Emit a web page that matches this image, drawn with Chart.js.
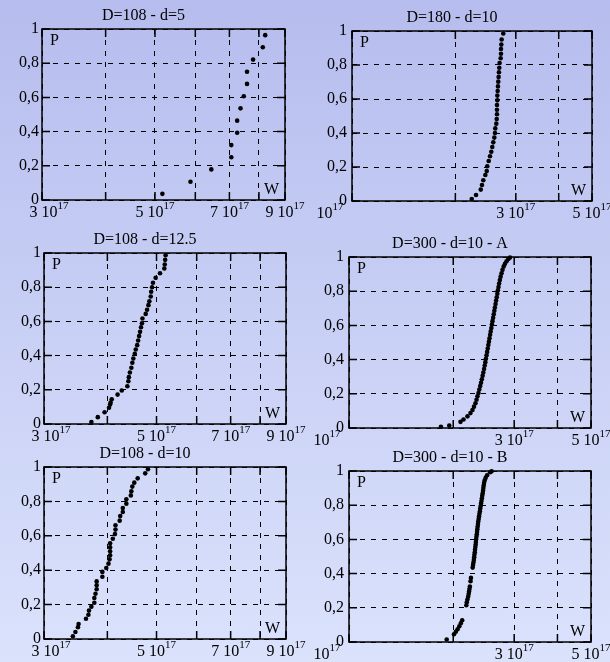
<!DOCTYPE html>
<html><head><meta charset="utf-8">
<script src="https://cdn.jsdelivr.net/npm/chart.js@4/dist/chart.umd.min.js"></script>
<style>
html,body{margin:0;padding:0;width:610px;height:662px;overflow:hidden;}
body{background:linear-gradient(to bottom,#b6bdee 0%,#c9d0f5 50%,#dae2fc 100%);position:relative;}
.pn{position:absolute;}
canvas{display:block;}
</style></head><body>
<div class="pn"><canvas id="c1"></canvas></div>
<div class="pn"><canvas id="c2"></canvas></div>
<div class="pn"><canvas id="c3"></canvas></div>
<div class="pn"><canvas id="c4"></canvas></div>
<div class="pn"><canvas id="c5"></canvas></div>
<div class="pn"><canvas id="c6"></canvas></div>
<script>
// ---------- DATA (W in units of 10^17, P = cumulative probability) ----------
const TITLES = ['D=108 - d=5', 'D=180 - d=10', 'D=108 - d=12.5', 'D=300 - d=10 - A', 'D=108 - d=10', 'D=300 - d=10 - B'];
const X_TITLE = 'W';
const Y_TITLE = 'P';

const X_EXPONENT = '17';
const LEFT_X_GRID = [3, 4, 5, 6, 7, 8, 9];
const LEFT_X_TICKS = [3, 5, 7, 9];
const LEFT_X_LABELS = ['3 10', '5 10', '7 10', '9 10'];
const RIGHT_X_GRID = [1, 2, 3, 4, 5];
const RIGHT_X_TICKS = [1, 3, 5];
const RIGHT_X_LABELS = ['10', '3 10', '5 10'];
const Y_TICKS = [0, 0.2, 0.4, 0.6, 0.8, 1];
const Y_LABELS = ['0', '0,2', '0,4', '0,6', '0,8', '1'];

// D=108 - d=5
const p1W = [5.17, 5.87, 6.45, 7.06, 7.06, 7.25, 7.25, 7.36, 7.47, 7.58, 7.58, 7.79, 8.14, 8.23];
const p1P = [0.036, 0.107, 0.179, 0.25, 0.321, 0.393, 0.464, 0.536, 0.607, 0.679, 0.75, 0.821, 0.893, 0.964];

// D=180 - d=10
const p2W = [2.232, 2.297, 2.371, 2.391, 2.412, 2.445, 2.468, 2.477, 2.501, 2.523, 2.545, 2.562, 2.579, 2.597, 2.609, 2.614, 2.632, 2.639, 2.644, 2.644, 2.644, 2.650, 2.650, 2.656, 2.661, 2.667, 2.673, 2.679, 2.685, 2.691, 2.710, 2.716, 2.716, 2.722, 2.728, 2.758];
const p2P = [0.012, 0.035, 0.067, 0.094, 0.122, 0.153, 0.176, 0.204, 0.235, 0.263, 0.29, 0.318, 0.345, 0.373, 0.4, 0.427, 0.455, 0.482, 0.51, 0.537, 0.565, 0.592, 0.62, 0.647, 0.674, 0.702, 0.73, 0.757, 0.784, 0.812, 0.84, 0.866, 0.894, 0.92, 0.95, 0.985];

// D=108 - d=12.5
const p3W = [3.72, 3.83, 3.95, 4.03, 4.05, 4.06, 4.08, 4.19, 4.27, 4.38, 4.40, 4.41, 4.43, 4.46, 4.48, 4.50, 4.53, 4.55, 4.58, 4.60, 4.62, 4.64, 4.66, 4.68, 4.69, 4.76, 4.79, 4.82, 4.84, 4.87, 4.88, 4.90, 4.92, 4.98, 5.08, 5.18, 5.19, 5.20, 5.21];
const p3P = [0.011, 0.04, 0.069, 0.095, 0.114, 0.126, 0.145, 0.172, 0.196, 0.221, 0.25, 0.274, 0.301, 0.329, 0.358, 0.383, 0.41, 0.436, 0.461, 0.488, 0.514, 0.539, 0.566, 0.589, 0.617, 0.644, 0.668, 0.695, 0.718, 0.746, 0.773, 0.8, 0.826, 0.855, 0.882, 0.909, 0.933, 0.96, 0.987];

// D=300 - d=10 - A
const p4W = [1.843, 1.948, 2.099, 2.142, 2.199, 2.243, 2.273, 2.296, 2.319, 2.335, 2.350, 2.366, 2.379, 2.393, 2.406, 2.419, 2.432, 2.443, 2.455, 2.466, 2.476, 2.486, 2.496, 2.506, 2.516, 2.526, 2.536, 2.546, 2.556, 2.566, 2.577, 2.587, 2.597, 2.608, 2.618, 2.629, 2.639, 2.650, 2.660, 2.671, 2.682, 2.692, 2.703, 2.714, 2.727, 2.741, 2.758, 2.776, 2.798, 2.822, 2.851, 2.885, 2.918];
const p4P = [0.007, 0.014, 0.036, 0.05, 0.068, 0.087, 0.105, 0.125, 0.145, 0.165, 0.185, 0.205, 0.225, 0.245, 0.265, 0.285, 0.305, 0.325, 0.345, 0.365, 0.385, 0.405, 0.425, 0.445, 0.465, 0.485, 0.505, 0.525, 0.545, 0.565, 0.585, 0.605, 0.625, 0.645, 0.665, 0.685, 0.705, 0.725, 0.745, 0.765, 0.785, 0.805, 0.825, 0.845, 0.865, 0.885, 0.905, 0.925, 0.945, 0.96, 0.975, 0.988, 0.997];

// D=108 - d=10
const p5W = [3.42, 3.46, 3.50, 3.51, 3.63, 3.67, 3.68, 3.72, 3.77, 3.77, 3.79, 3.81, 3.81, 3.81, 3.91, 3.91, 3.98, 4.02, 4.04, 4.05, 4.05, 4.05, 4.05, 4.10, 4.14, 4.15, 4.15, 4.23, 4.24, 4.29, 4.29, 4.36, 4.36, 4.45, 4.46, 4.48, 4.52, 4.59, 4.75, 4.81];
const p5P = [0.016, 0.041, 0.068, 0.087, 0.118, 0.141, 0.165, 0.188, 0.211, 0.238, 0.263, 0.289, 0.312, 0.335, 0.362, 0.39, 0.413, 0.438, 0.463, 0.487, 0.51, 0.533, 0.556, 0.583, 0.61, 0.636, 0.661, 0.688, 0.715, 0.738, 0.762, 0.787, 0.812, 0.835, 0.859, 0.886, 0.909, 0.934, 0.963, 0.987];

// D=300 - d=10 - B
const p6W = [1.915, 2.010, 2.035, 2.059, 2.083, 2.104, 2.123, 2.182, 2.189, 2.198, 2.209, 2.216, 2.222, 2.228, 2.234, 2.244, 2.250, 2.276, 2.282, 2.288, 2.294, 2.299, 2.303, 2.308, 2.312, 2.317, 2.322, 2.325, 2.329, 2.334, 2.339, 2.344, 2.348, 2.353, 2.358, 2.362, 2.369, 2.375, 2.381, 2.388, 2.394, 2.400, 2.407, 2.413, 2.420, 2.426, 2.433, 2.439, 2.444, 2.449, 2.455, 2.465, 2.482, 2.505, 2.556, 2.581];
const p6P = [0.015, 0.045, 0.06, 0.075, 0.092, 0.11, 0.127, 0.215, 0.232, 0.248, 0.265, 0.28, 0.295, 0.31, 0.325, 0.355, 0.375, 0.435, 0.45, 0.465, 0.48, 0.495, 0.51, 0.525, 0.54, 0.555, 0.57, 0.585, 0.6, 0.615, 0.63, 0.645, 0.66, 0.675, 0.69, 0.705, 0.72, 0.735, 0.75, 0.765, 0.78, 0.795, 0.81, 0.825, 0.84, 0.855, 0.87, 0.885, 0.9, 0.915, 0.93, 0.945, 0.96, 0.975, 0.993, 0.998];

// ---------- LAYOUT / STYLE ----------
const FONT = "'Liberation Serif','Times New Roman',serif";
const FS = 16, SUPFS = 11;
const YW = 40, XH = 24, TH = 22, PADR = 20, TK = 8;

const LEFT_AXIS = {min: 3, max: 9, grid: LEFT_X_GRID, ticks: LEFT_X_TICKS, labels: LEFT_X_LABELS, firstShift: 7};
const RIGHT_AXIS = {min: 1, max: 5, grid: RIGHT_X_GRID, ticks: RIGHT_X_TICKS, labels: RIGHT_X_LABELS, firstShift: -22};

const PANELS = [
  {id: 'c1', title: TITLES[0], w: p1W, p: p1P, ax: LEFT_AXIS, area: {l: 42, r: 285, t: 29, b: 200}, ypad: 3},
  {id: 'c2', title: TITLES[1], w: p2W, p: p2P, ax: RIGHT_AXIS, area: {l: 352, r: 592, t: 31, b: 201}, ypad: 5},
  {id: 'c3', title: TITLES[2], w: p3W, p: p3P, ax: LEFT_AXIS, area: {l: 44, r: 286, t: 253, b: 424}, ypad: 3},
  {id: 'c4', title: TITLES[3], w: p4W, p: p4P, ax: RIGHT_AXIS, area: {l: 349, r: 591, t: 257, b: 428}, ypad: 5},
  {id: 'c5', title: TITLES[4], w: p5W, p: p5P, ax: LEFT_AXIS, area: {l: 44, r: 286, t: 467, b: 639}, ypad: 3},
  {id: 'c6', title: TITLES[5], w: p6W, p: p6P, ax: RIGHT_AXIS, area: {l: 349, r: 591, t: 471, b: 642}, ypad: 5}
];

const framePlugin = {
  id: 'frame',
  beforeDatasetsDraw(chart) {
    const {ctx, chartArea: a, scales: {x, y}} = chart;
    ctx.save();
    ctx.strokeStyle = '#000';
    ctx.lineWidth = 1.5;
    ctx.setLineDash([]);
    ctx.strokeRect(a.left, a.top, a.right - a.left, a.bottom - a.top);
    ctx.beginPath();
    x.ticks.forEach(t => {
      const px = x.getPixelForValue(t.value);
      ctx.moveTo(px, a.bottom); ctx.lineTo(px, a.bottom - TK);
      ctx.moveTo(px, a.top); ctx.lineTo(px, a.top + TK);
    });
    y.ticks.forEach(t => {
      const py = y.getPixelForValue(t.value);
      ctx.moveTo(a.left, py); ctx.lineTo(a.left + TK, py);
      ctx.moveTo(a.right, py); ctx.lineTo(a.right - TK, py);
    });
    ctx.stroke();
    ctx.fillStyle = '#000';
    ctx.font = FS + 'px ' + FONT;
    ctx.textAlign = 'left'; ctx.textBaseline = 'top';
    ctx.fillText(Y_TITLE, a.left + 8, a.top + 4);
    ctx.textAlign = 'right'; ctx.textBaseline = 'bottom';
    ctx.fillText(X_TITLE, a.right - 6, a.bottom - 2);
    ctx.restore();
  },
  afterDraw(chart) {
    // x tick labels "m 10^17" with a raised exponent, placed through the x scale
    const {ctx, chartArea: a, scales: {x}} = chart;
    const ax = chart.config.options.plugins.frame.ax;
    ctx.save();
    ctx.fillStyle = '#000';
    ctx.textBaseline = 'alphabetic';
    ctx.textAlign = 'left';
    ax.ticks.forEach((v, i) => {
      const base = ax.labels[i];
      ctx.font = FS + 'px ' + FONT;
      const wb = ctx.measureText(base).width;
      ctx.font = SUPFS + 'px ' + FONT;
      const we = ctx.measureText(X_EXPONENT).width;
      let cx = x.getPixelForValue(v) + (i === 0 ? ax.firstShift : 0);
      const x0 = cx - (wb + we) / 2;
      const by = a.bottom + 17;
      ctx.font = FS + 'px ' + FONT;
      ctx.fillText(base, x0, by);
      ctx.font = SUPFS + 'px ' + FONT;
      ctx.fillText(X_EXPONENT, x0 + wb, by - 8);
    });
    ctx.restore();
  }
};

function make(cfg) {
  const cv = document.getElementById(cfg.id);
  const wrap = cv.parentNode;
  const a = cfg.area;
  const cw = YW + (a.r - a.l) + PADR;
  const ch = TH + (a.b - a.t) + XH;
  wrap.style.left = (a.l - YW) + 'px';
  wrap.style.top = (a.t - TH) + 'px';
  cv.width = cw; cv.height = ch;
  cv.style.width = cw + 'px'; cv.style.height = ch + 'px';
  const ax = cfg.ax;
  new Chart(cv, {
    type: 'scatter',
    data: {datasets: [{
      data: cfg.w.map((v, i) => ({x: v, y: cfg.p[i]})),
      pointRadius: 2.3, pointHoverRadius: 2.3, pointBorderWidth: 0,
      backgroundColor: '#000', borderColor: '#000', clip: false
    }]},
    options: {
      responsive: false, animation: false, events: [],
      layout: {padding: {left: 0, right: PADR, top: 0, bottom: 0}},
      plugins: {
        frame: {ax: ax},
        legend: {display: false}, tooltip: {enabled: false},
        title: {display: true, text: cfg.title, color: '#000',
          font: {family: FONT, size: FS, weight: 'normal', lineHeight: 1},
          padding: {top: TH - FS - 5, bottom: 5}}
      },
      scales: {
        x: {
          type: 'logarithmic', min: ax.min, max: ax.max,
          afterBuildTicks: s => { s.ticks = ax.grid.map(v => ({value: v})); },
          afterFit: s => { s.height = XH; s.paddingLeft = 0; s.paddingRight = 0; },
          ticks: {display: false, autoSkip: false},
          grid: {color: '#000', lineWidth: 1, drawTicks: false},
          border: {display: false, dash: [5, 6]}
        },
        y: {
          min: 0, max: 1,
          afterBuildTicks: s => { s.ticks = Y_TICKS.map(v => ({value: v})); },
          afterFit: s => { s.width = YW; },
          ticks: {
            color: '#000', padding: cfg.ypad, font: {family: FONT, size: FS},
            callback: (v) => { const i = Y_TICKS.indexOf(v); return i < 0 ? '' : Y_LABELS[i]; }
          },
          grid: {color: '#000', lineWidth: 1, drawTicks: false},
          border: {display: false, dash: [5, 6]}
        }
      }
    },
    plugins: [framePlugin]
  });
}
PANELS.forEach(make);
</script>
</body></html>
